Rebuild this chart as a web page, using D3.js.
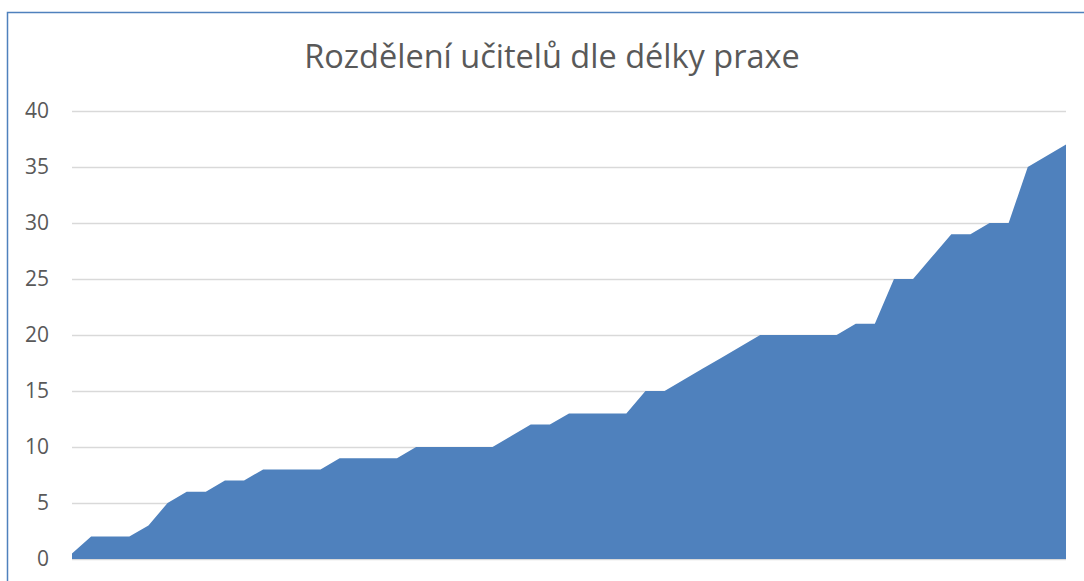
<!DOCTYPE html>
<html>
<head>
<meta charset="utf-8">
<script src="https://cdn.jsdelivr.net/npm/d3@7"></script>
<style>
  body { margin: 0; background: #fff; }
  svg { display: block; font-family: "Open Sans", sans-serif; }
</style>
</head>
<body>
<div id="chart"></div>
<script>
const width = 1084;
const height = 581;
const margin = { top: 111, right: 18, bottom: 22, left: 72 };

const title = "Rozdělení učitelů dle délky praxe";
// years of practice, teachers sorted ascending
const values = [
  0.5, 2, 2, 2, 3, 5, 6, 6, 7, 7,
  8, 8, 8, 8, 9, 9, 9, 9, 10, 10,
  10, 10, 10, 11, 12, 12, 13, 13, 13, 13,
  15, 15, 16, 17, 18, 19, 20, 20, 20, 20,
  20, 21, 21, 25, 25, 27, 29, 29, 30, 30,
  35, 36, 37
];
const categories = values.map((d, i) => i + 1);
const yTicks = [0, 5, 10, 15, 20, 25, 30, 35, 40];

const svg = d3.select("#chart")
  .append("svg")
  .attr("width", width)
  .attr("height", height);

// chart frame (only top and left edges show in the window)
svg.append("rect")
  .attr("x", 7.5)
  .attr("y", 12.5)
  .attr("width", width + 20)
  .attr("height", height + 20)
  .attr("fill", "none")
  .attr("stroke", "#4f81bd")
  .attr("stroke-width", 1.5);

const x = d3.scalePoint()
  .domain(categories)
  .range([margin.left, width - margin.right]);

const y = d3.scaleLinear()
  .domain([0, 40])
  .range([height - margin.bottom, margin.top]);

// gridlines + labels
const yAxis = svg.append("g")
  .attr("transform", `translate(${margin.left},0)`)
  .call(d3.axisLeft(y)
    .tickValues(yTicks)
    .tickSize(-(width - margin.left - margin.right))
    .tickPadding(23));

yAxis.select(".domain").remove();
yAxis.selectAll(".tick line")
  .attr("stroke", "#d9d9d9")
  .attr("stroke-width", 1.5);
yAxis.selectAll(".tick text")
  .attr("fill", "#595959")
  .attr("font-size", 21)
  .attr("font-family", "Open Sans, sans-serif");

const area = d3.area()
  .x((d, i) => x(categories[i]))
  .y0(y(0))
  .y1(d => y(d));

svg.append("path")
  .datum(values)
  .attr("fill", "#4f81bd")
  .attr("d", area);

svg.append("text")
  .attr("x", 552)
  .attr("y", 68)
  .attr("text-anchor", "middle")
  .attr("fill", "#595959")
  .attr("font-size", 32.5)
  .text(title);
</script>
</body>
</html>
